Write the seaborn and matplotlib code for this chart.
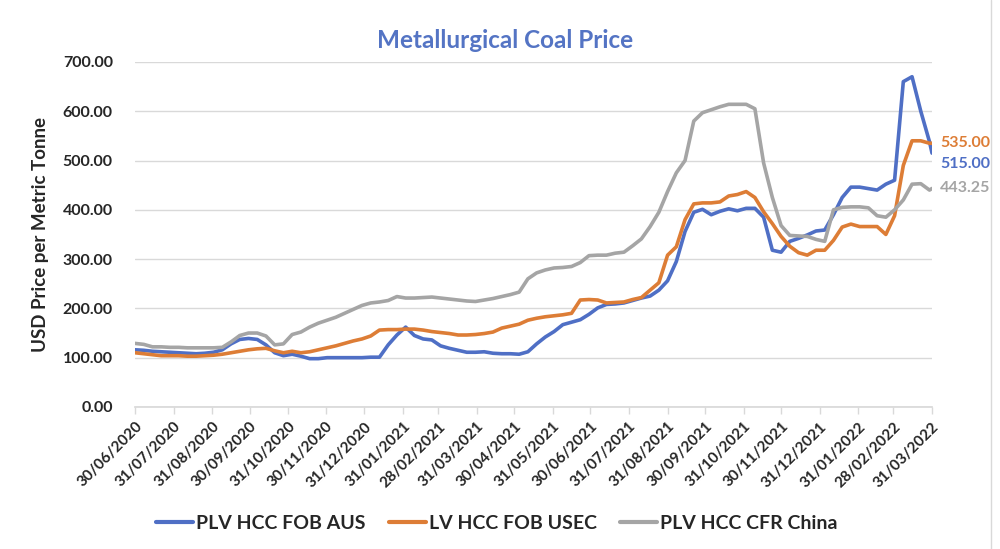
import numpy as np
import matplotlib
matplotlib.use("Agg")
import matplotlib.pyplot as plt
import pandas as pd
import seaborn as sns

# weekly readings from 30/06/2020, plus the last day 31/03/2022
dates = pd.date_range("2020-06-30", periods=92, freq="7D").append(pd.DatetimeIndex(["2022-03-31"]))

plv_fob_aus = [116, 115, 113, 112, 111, 110, 109, 108, 109, 111,
               116, 128, 137, 139, 137, 126, 110, 104, 107, 103,
               98, 98, 100, 100, 100, 100, 100, 101, 101, 126,
               146, 162, 145, 138, 136, 124, 119, 115, 111, 111,
               112, 109, 108, 108, 107, 112, 128, 142, 153, 167,
               172, 177, 188, 201, 208, 209, 211, 216, 221, 225,
               237, 256, 295, 356, 395, 401, 390, 397, 402, 398,
               403, 403, 385, 318, 314, 336, 342, 349, 357, 359,
               390, 425, 446, 446, 443, 440, 452, 460, 660, 670,
               600, 538, 515]

lv_fob_usec = [110, 108, 106, 104, 104, 104, 103, 103, 104, 105,
               107, 110, 113, 116, 118, 119, 114, 110, 113, 110,
               112, 116, 120, 124, 129, 134, 138, 144, 156, 157,
               157, 158, 158, 156, 153, 151, 149, 146, 146, 147,
               149, 152, 160, 164, 168, 176, 180, 183, 185, 187,
               190, 217, 218, 217, 211, 212, 213, 218, 222, 237,
               252, 308, 325, 380, 412, 414, 414, 416, 428, 431,
               437, 425, 396, 372, 346, 326, 313, 308, 318, 318,
               338, 365, 371, 366, 366, 366, 350, 388, 490, 540,
               540, 535, 535]

plv_cfr_china = [129, 127, 122, 122, 121, 121, 120, 120, 120, 120,
                 121, 132, 145, 150, 150, 144, 126, 128, 147, 152,
                 162, 170, 176, 182, 190, 198, 206, 211, 213, 216,
                 224, 221, 221, 222, 223, 221, 219, 217, 215, 214,
                 217, 220, 224, 228, 233, 260, 272, 278, 282, 283,
                 285, 293, 307, 308, 308, 312, 314, 327, 341, 366,
                 395, 437, 475, 500, 580, 597, 603, 609, 614, 614,
                 614, 605, 495, 425, 368, 348, 347, 346, 340, 336,
                 400, 405, 406, 406, 404, 388, 385, 400, 420, 452,
                 453, 440, 443.25]

series_names = ["PLV HCC FOB AUS", "LV HCC FOB USEC", "PLV HCC CFR China"]
colours = ["#4f6fc5", "#dd7d36", "#a5a5a5"]

df = pd.DataFrame({"date": dates,
                   series_names[0]: plv_fob_aus,
                   series_names[1]: lv_fob_usec,
                   series_names[2]: plv_cfr_china})
long_df = df.melt(id_vars="date", var_name="series", value_name="price")

sns.set_theme(style="white")
plt.rcParams["font.family"] = ["Lato", "DejaVu Sans"]

fig = plt.figure(figsize=(10, 5.49), dpi=100)
ax = fig.add_axes([0.135, 0.2587, 0.797, 0.6285])

sns.lineplot(data=long_df, x="date", y="price", hue="series", hue_order=series_names,
             palette=colours, linewidth=2.6, ax=ax, legend=False)

ax.set_xlim(dates[0], dates[-1])
ax.set_ylim(0, 700)
ax.set_yticks(np.arange(0, 701, 100))
ax.set_yticklabels([f"{v:.2f}" for v in range(0, 701, 100)], fontsize=11.5, fontweight="bold")
ax.yaxis.grid(True, color="#d9d9d9", linewidth=1)
ax.tick_params(axis="y", length=0, pad=16)

month_ends = pd.date_range("2020-06-30", "2022-03-31", freq="ME")
ax.set_xticks(month_ends)
ax.set_xticklabels([d.strftime("%d/%m/%Y") for d in month_ends], rotation=45,
                   ha="right", va="top", rotation_mode="anchor", fontsize=11, fontweight="bold")
ax.tick_params(axis="x", length=5, width=1, color="#d9d9d9", direction="out", bottom=True, pad=4)

for s in ["top", "right", "left"]:
    ax.spines[s].set_visible(False)
ax.spines["bottom"].set_color("#d9d9d9")

ax.set_xlabel("")
ax.set_ylabel("USD Price per Metric Tonne", fontsize=13.5, fontweight="bold", labelpad=10)

fig.text(0.505, 0.927, "Metallurgical Coal Price", ha="center", va="center",
         fontsize=17.5, fontweight="bold", color="#5474c4")

# end-of-series value labels
end_offsets = [-11, 0, 0]
for name, col, off in zip(series_names, colours, end_offsets):
    last = df[name].iloc[-1]
    ax.annotate(f"{last:.2f}", xy=(dates[-1], last), xytext=(8, off), textcoords="offset pixels",
                ha="left", va="center", fontsize=11.5, fontweight="bold", color=col,
                annotation_clip=False)

handles = [plt.Line2D([], [], color=c, linewidth=3) for c in colours]
fig.legend(handles, series_names, loc="center", bbox_to_anchor=(0.497, 0.047), ncol=3,
           frameon=False, prop={"size": 14, "weight": "bold"}, handlelength=1.9,
           columnspacing=1.2, handletextpad=0.15)

fig.add_artist(plt.Line2D([0.991, 0.991], [0, 1], color="#d9d9d9", linewidth=1,
                          transform=fig.transFigure))

fig.savefig("out.png", dpi=100)
